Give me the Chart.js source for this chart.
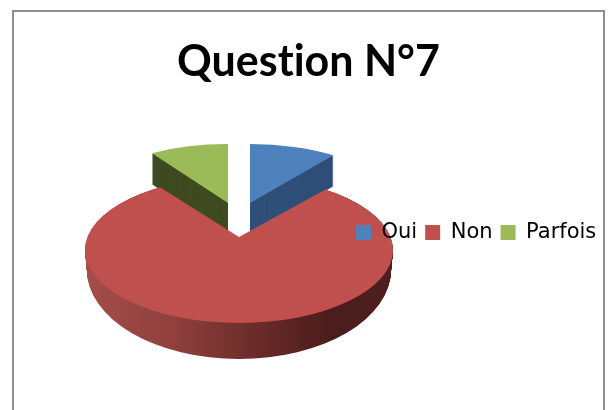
<!DOCTYPE html>
<html>
<head>
<meta charset="utf-8">
<style>
    body { margin: 0; background: #fff; width: 609px; height: 410px; overflow: hidden; position: relative; }
    #frame { position: absolute; left: 12px; top: 10px; width: 589px; height: 400px; border: 2px solid #8f8f8f; border-bottom: none; }
    canvas { position: absolute; left: 0; top: 0; }
</style>
<script src="https://cdn.jsdelivr.net/npm/chart.js@4/dist/chart.umd.min.js"></script>
</head>
<body>
<div id="frame"></div>
<canvas id="pie" width="609" height="410"></canvas>
<script>
// Chart data
const categories = ['Oui', 'Non', 'Parfois'];
const shares = [10, 81, 9];
const topColors = ['#4F81BD', '#C0504D', '#9BBB59'];
const sideColors = ['#2F4F79', null, '#3F4A20'];

// Where each slice sits once the pie is tilted and pulled apart.
// The big slice is drawn oversized and cut by its rim ellipses (top face, then floor).
const RADIUS = 154;
const sliceLayout = [
    { cx: 250, cy: 203, sx: 142 / 154, ryTop: 59, ryBottom: 59, depth: 31 },
    {
        cx: 239, cy: 237, sx: 1.3, ryTop: 80, ryBottom: 115, depth: 36,
        rim: { cy: 250, rx: 154, ry: 73 },
        floor: { cy: 270, rx: 152, ry: 89 }
    },
    { cx: 228, cy: 203, sx: 142 / 154, ryTop: 59, ryBottom: 59, depth: 31 }
];

// Draw one arc squashed flat; the half nearer the viewer is taller than the far half
function drawTilted(chart, arc, layout, dy, fill) {
    const ctx = chart.ctx;
    const splitY = Math.round(layout.cy + dy);
    const saved = arc.options;
    if (fill) {
        arc.options = Object.create(saved, { backgroundColor: { value: fill } });
    }
    [[0, splitY, layout.ryTop], [splitY, chart.height - splitY, layout.ryBottom]].forEach(([y, h, ry]) => {
        ctx.save();
        if (layout.rim) {
            // Rim slides from the top face down to the floor as the wall is built up
            const t = dy / layout.depth;
            const { rim, floor } = layout;
            ctx.beginPath();
            ctx.ellipse(layout.cx, rim.cy + (floor.cy - rim.cy) * t,
                rim.rx + (floor.rx - rim.rx) * t, rim.ry + (floor.ry - rim.ry) * t, 0, 0, Math.PI * 2);
            ctx.clip();
        }
        ctx.beginPath();
        ctx.rect(0, y, chart.width, h);
        ctx.clip();
        ctx.translate(layout.cx, layout.cy + dy);
        ctx.scale(layout.sx, ry / RADIUS);
        ctx.translate(-arc.x, -arc.y);
        arc.draw(ctx);
        ctx.restore();
    });
    arc.options = saved;
}

function redSideGradient(ctx, arc, layout) {
    const half = RADIUS / layout.sx;
    const grad = ctx.createLinearGradient(arc.x - half, 0, arc.x + half, 0);
    grad.addColorStop(0, '#A54D4A');
    grad.addColorStop(0.3, '#8E3F3C');
    grad.addColorStop(0.55, '#6B2C2A');
    grad.addColorStop(0.8, '#4A1C1B');
    grad.addColorStop(1, '#4E1F1E');
    return grad;
}

const pie3d = {
    id: 'pie3d',
    beforeDraw(chart) {
        // No ligatures in the title
        chart.ctx.textRendering = 'optimizeSpeed';

        // Legend sits over the pie, not in its own layout box
        const legend = chart.legend;
        const legendH = legend.bottom - legend.top;
        legend.left = 348;
        legend.right = 609;
        legend.top = 214;
        legend.bottom = 214 + legendH;

        const title = chart.titleBlock;
        title.left = 4;
        title.right = 613;

        const arcs = chart.getDatasetMeta(0).data;
        // Far slices first so the big slice covers their walls
        [2, 0, 1].forEach(i => {
            const arc = arcs[i];
            const layout = sliceLayout[i];
            const side = sideColors[i] || redSideGradient(chart.ctx, arc, layout);
            for (let d = layout.depth; d >= 1; d--) {
                drawTilted(chart, arc, layout, d, side);
            }
            drawTilted(chart, arc, layout, 0, null);
        });
    },
    beforeDatasetsDraw() {
        // Slices were already drawn above
        return false;
    }
};

new Chart(document.getElementById('pie'), {
    type: 'pie',
    data: {
        labels: categories,
        datasets: [{ data: shares, backgroundColor: topColors, borderWidth: 0 }]
    },
    options: {
        responsive: false,
        animation: false,
        radius: RADIUS,
        plugins: {
            tooltip: { enabled: false },
            title: {
                display: true,
                text: 'Question N°7',
                color: '#000',
                font: { family: 'Lato', size: 43, weight: 'bold' },
                padding: { top: 36, bottom: 10 }
            },
            legend: {
                position: 'top',
                align: 'start',
                labels: {
                    boxWidth: 15,
                    boxHeight: 15,
                    padding: 8,
                    color: '#000',
                    font: { family: 'DejaVu Sans', size: 21 }
                }
            }
        }
    },
    plugins: [pie3d]
});
</script>
</body>
</html>
